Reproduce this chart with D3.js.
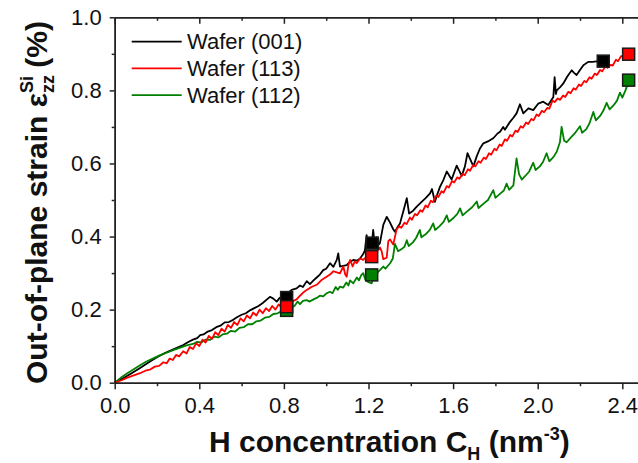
<!DOCTYPE html>
<html>
<head>
<meta charset="utf-8">
<script src="https://cdn.jsdelivr.net/npm/d3@7"></script>
<style>
  body { margin: 0; background: #fff; }
  svg { display: block; font-family: "Liberation Sans", Arial, sans-serif; }
</style>
</head>
<body>
<div id="chart"></div>
<script>
// strain vs H concentration, one [x, y] list per wafer
const seriesNames = ['Wafer (001)', 'Wafer (113)', 'Wafer (112)'];

const wafer001 = [
  [0,0],[0.04,0.012],[0.08,0.026],[0.12,0.040],[0.167,0.058],[0.20,0.070],[0.24,0.082],[0.28,0.092],
  [0.324,0.103],[0.35,0.112],[0.37,0.118],[0.39,0.122],[0.404,0.130],[0.42,0.132],[0.44,0.140],
  [0.46,0.144],[0.48,0.152],[0.50,0.156],[0.52,0.165],[0.54,0.166],[0.56,0.172],[0.58,0.180],
  [0.60,0.186],[0.62,0.190],[0.64,0.198],[0.66,0.204],[0.68,0.210],[0.70,0.218],[0.72,0.228],
  [0.734,0.235],[0.75,0.230],[0.766,0.222],[0.78,0.232],[0.80,0.240],[0.82,0.246],[0.837,0.254],
  [0.86,0.258],[0.876,0.266],[0.89,0.262],[0.908,0.278],[0.923,0.270],[0.94,0.280],[0.955,0.288],
  [0.97,0.296],[0.986,0.308],[1.00,0.312],[1.018,0.327],[1.034,0.317],[1.05,0.336],[1.057,0.354],
  [1.065,0.318],[1.08,0.320],[1.097,0.322],[1.11,0.330],[1.128,0.336],[1.145,0.334],[1.160,0.340],
  [1.175,0.352],[1.183,0.362],[1.191,0.404],[1.199,0.372],[1.207,0.392],[1.214,0.370],[1.222,0.418],
  [1.230,0.376],[1.238,0.398],[1.245,0.376],[1.254,0.382],[1.27,0.432],[1.286,0.454],[1.30,0.440],
  [1.317,0.420],[1.325,0.413],[1.34,0.428],[1.349,0.436],[1.365,0.470],[1.381,0.505],[1.392,0.463],
  [1.41,0.470],[1.428,0.482],[1.45,0.494],[1.47,0.505],[1.491,0.518],[1.50,0.530],[1.514,0.495],
  [1.525,0.515],[1.538,0.536],[1.555,0.556],[1.57,0.578],[1.593,0.556],[1.617,0.594],[1.641,0.566],
  [1.656,0.592],[1.668,0.628],[1.696,0.592],[1.712,0.620],[1.727,0.641],[1.743,0.655],[1.77,0.662],
  [1.79,0.669],[1.81,0.682],[1.822,0.687],[1.837,0.700],[1.845,0.692],[1.869,0.714],[1.885,0.725],
  [1.90,0.737],[1.916,0.762],[1.932,0.737],[1.956,0.751],[1.979,0.746],[2.003,0.764],[2.026,0.769],
  [2.05,0.760],[2.074,0.782],[2.080,0.836],[2.086,0.790],[2.09,0.800],[2.105,0.808],[2.121,0.819],
  [2.14,0.838],[2.161,0.855],[2.172,0.848],[2.184,0.842],[2.20,0.856],[2.216,0.869],[2.239,0.878],
  [2.26,0.878],[2.287,0.880],[2.31,0.880]
];

const wafer113 = [
  [0,0],[0.03,0.006],[0.06,0.014],[0.09,0.020],[0.12,0.026],[0.15,0.034],[0.167,0.036],[0.19,0.044],
  [0.21,0.046],[0.23,0.056],[0.246,0.053],[0.26,0.066],[0.275,0.062],[0.29,0.076],[0.305,0.072],
  [0.324,0.086],[0.34,0.080],[0.355,0.098],[0.37,0.092],[0.385,0.108],[0.40,0.100],[0.415,0.118],
  [0.43,0.110],[0.445,0.128],[0.46,0.120],[0.475,0.138],[0.49,0.130],[0.505,0.148],[0.52,0.140],
  [0.535,0.158],[0.55,0.150],[0.565,0.166],[0.58,0.158],[0.595,0.176],[0.61,0.168],[0.625,0.184],
  [0.64,0.176],[0.655,0.192],[0.67,0.184],[0.685,0.200],[0.70,0.190],[0.715,0.204],[0.73,0.196],
  [0.745,0.210],[0.76,0.200],[0.775,0.214],[0.79,0.206],[0.81,0.214],[0.83,0.218],[0.845,0.224],
  [0.86,0.228],[0.876,0.238],[0.89,0.246],[0.908,0.254],[0.93,0.262],[0.955,0.268],[0.98,0.282],
  [1.002,0.290],[1.018,0.296],[1.034,0.305],[1.05,0.302],[1.065,0.299],[1.081,0.318],[1.090,0.296],
  [1.097,0.290],[1.105,0.322],[1.113,0.336],[1.125,0.318],[1.135,0.332],[1.144,0.327],[1.160,0.340],
  [1.175,0.336],[1.191,0.345],[1.21,0.350],[1.23,0.352],[1.254,0.370],[1.262,0.360],[1.270,0.338],
  [1.286,0.342],[1.294,0.388],[1.302,0.392],[1.317,0.378],[1.333,0.420],[1.345,0.428],[1.355,0.424],
  [1.37,0.438],[1.38,0.434],[1.396,0.452],[1.405,0.446],[1.42,0.462],[1.43,0.458],[1.445,0.472],
  [1.455,0.468],[1.47,0.485],[1.48,0.480],[1.495,0.498],[1.505,0.494],[1.52,0.512],[1.53,0.508],
  [1.545,0.524],[1.555,0.520],[1.57,0.538],[1.58,0.534],[1.595,0.552],[1.605,0.548],[1.62,0.562],
  [1.63,0.558],[1.645,0.572],[1.655,0.568],[1.67,0.584],[1.68,0.580],[1.695,0.596],[1.705,0.592],
  [1.72,0.606],[1.73,0.602],[1.745,0.616],[1.755,0.612],[1.77,0.628],[1.78,0.624],[1.795,0.640],
  [1.805,0.636],[1.82,0.652],[1.83,0.648],[1.845,0.666],[1.855,0.662],[1.87,0.678],[1.88,0.674],
  [1.895,0.690],[1.905,0.686],[1.92,0.702],[1.93,0.698],[1.945,0.712],[1.955,0.708],[1.97,0.722],
  [1.98,0.718],[1.995,0.734],[2.005,0.730],[2.02,0.744],[2.03,0.740],[2.045,0.752],[2.055,0.750],
  [2.07,0.772],[2.08,0.768],[2.095,0.778],[2.105,0.774],[2.12,0.786],[2.13,0.782],[2.145,0.796],
  [2.155,0.792],[2.17,0.806],[2.18,0.802],[2.195,0.816],[2.205,0.812],[2.22,0.826],[2.23,0.822],
  [2.245,0.836],[2.255,0.832],[2.27,0.846],[2.28,0.842],[2.295,0.856],[2.305,0.852],[2.32,0.866],
  [2.33,0.862],[2.345,0.870],[2.355,0.868],[2.37,0.884],[2.38,0.880],[2.395,0.894],[2.405,0.892],
  [2.43,0.905]
];

const wafer112 = [
  [0,0],[0.03,0.014],[0.06,0.026],[0.088,0.036],[0.12,0.048],[0.15,0.058],[0.18,0.066],[0.21,0.074],
  [0.246,0.082],[0.28,0.090],[0.31,0.096],[0.34,0.102],[0.37,0.106],[0.39,0.112],[0.41,0.110],
  [0.43,0.118],[0.45,0.117],[0.47,0.126],[0.49,0.124],[0.51,0.132],[0.53,0.134],[0.55,0.142],
  [0.57,0.140],[0.59,0.150],[0.61,0.152],[0.63,0.160],[0.65,0.160],[0.67,0.168],[0.69,0.170],
  [0.71,0.178],[0.73,0.180],[0.75,0.188],[0.77,0.190],[0.79,0.196],[0.81,0.198],[0.83,0.204],
  [0.85,0.210],[0.865,0.222],[0.876,0.215],[0.89,0.224],[0.908,0.226],[0.92,0.222],[0.94,0.228],
  [0.955,0.232],[0.97,0.238],[0.985,0.236],[1.00,0.244],[1.018,0.249],[1.03,0.245],[1.045,0.262],
  [1.055,0.254],[1.065,0.263],[1.08,0.260],[1.095,0.274],[1.105,0.266],[1.113,0.280],[1.128,0.272],
  [1.145,0.288],[1.155,0.280],[1.165,0.294],[1.175,0.300],[1.185,0.282],[1.20,0.275],[1.215,0.272],
  [1.225,0.290],[1.24,0.300],[1.254,0.308],[1.27,0.318],[1.28,0.312],[1.302,0.327],[1.315,0.340],
  [1.325,0.380],[1.34,0.360],[1.355,0.365],[1.37,0.372],[1.381,0.390],[1.39,0.374],[1.41,0.384],
  [1.425,0.396],[1.443,0.418],[1.45,0.398],[1.47,0.406],[1.49,0.418],[1.506,0.436],[1.515,0.418],
  [1.535,0.428],[1.555,0.440],[1.57,0.458],[1.58,0.440],[1.60,0.450],[1.62,0.462],[1.633,0.477],
  [1.645,0.458],[1.665,0.468],[1.69,0.480],[1.712,0.496],[1.72,0.478],[1.74,0.488],[1.765,0.500],
  [1.79,0.527],[1.80,0.506],[1.82,0.516],[1.84,0.526],[1.853,0.545],[1.865,0.528],[1.885,0.540],
  [1.90,0.614],[1.912,0.570],[1.925,0.556],[1.94,0.565],[1.96,0.578],[1.979,0.602],[1.99,0.582],
  [2.01,0.592],[2.025,0.604],[2.042,0.628],[2.055,0.606],[2.075,0.618],[2.09,0.632],[2.105,0.658],
  [2.113,0.700],[2.125,0.662],[2.137,0.658],[2.155,0.670],[2.175,0.682],[2.20,0.702],[2.21,0.684],
  [2.23,0.694],[2.245,0.710],[2.263,0.741],[2.275,0.718],[2.295,0.730],[2.31,0.744],[2.326,0.766],
  [2.34,0.748],[2.36,0.760],[2.375,0.772],[2.389,0.794],[2.40,0.780],[2.415,0.800],[2.43,0.826]
];

// square markers at the measured points
const markers001 = [[0.813,0.233],[1.218,0.382],[2.31,0.880]];
const markers113 = [[0.813,0.208],[1.215,0.345],[2.43,0.899]];
const markers112 = [[0.813,0.198],[1.215,0.295],[2.43,0.828]];

const xTicks = [0, 0.4, 0.8, 1.2, 1.6, 2.0, 2.4];
const xMinorTicks = [0.2, 0.6, 1.0, 1.4, 1.8, 2.2];
const yTicks = [0, 0.2, 0.4, 0.6, 0.8, 1.0];
const yMinorTicks = [0.1, 0.3, 0.5, 0.7, 0.9];

const width = 638;
const height = 463;
const plotLeft = 114.7, plotTop = 17.3, plotBottom = 382.7;
const font = '"Liberation Sans", Arial, sans-serif';

const x = d3.scaleLinear().domain([0, 2.5]).range([plotLeft, plotLeft + 2.5 * 211.5]);
const y = d3.scaleLinear().domain([0, 1]).range([plotBottom, plotTop]);

const svg = d3.select('#chart').append('svg')
  .attr('width', width)
  .attr('height', height);

svg.append('rect').attr('width', width).attr('height', height).attr('fill', '#fff');

const series = [
  { name: seriesNames[0], data: wafer001, marks: markers001, color: '#000000' },
  { name: seriesNames[1], data: wafer113, marks: markers113, color: '#ff0000' },
  { name: seriesNames[2], data: wafer112, marks: markers112, color: '#008000' }
];

const line = d3.line().x(d => x(d[0])).y(d => y(d[1]));

// draw order: black, green, red
[series[0], series[2], series[1]].forEach(s => {
  svg.append('path')
    .datum(s.data)
    .attr('fill', 'none')
    .attr('stroke', s.color)
    .attr('stroke-width', 1.8)
    .attr('stroke-linejoin', 'round')
    .attr('d', line);
});

[series[0], series[2], series[1]].forEach(s => {
  svg.selectAll(null)
    .data(s.marks)
    .enter().append('rect')
      .attr('x', d => x(d[0]) - 6)
      .attr('y', d => y(d[1]) - 6)
      .attr('width', 12)
      .attr('height', 12)
      .attr('fill', s.color)
      .attr('stroke', '#1a1a1a')
      .attr('stroke-width', 1.5);
});

// axes
const styleAxis = (g) => {
  g.select('.domain').attr('stroke', '#222').attr('stroke-width', 1.5);
  g.selectAll('.tick line').attr('stroke', '#222').attr('stroke-width', 1.5);
  g.selectAll('.tick text').attr('fill', '#111').style('font-family', font).style('font-size', '22px');
};

svg.append('g')
  .attr('transform', `translate(0,${plotBottom})`)
  .call(d3.axisBottom(x).tickValues(xTicks).tickSize(6.5).tickPadding(8).tickFormat(d3.format('.1f')).tickSizeOuter(0))
  .call(styleAxis);
svg.append('g')
  .attr('transform', `translate(0,${plotBottom})`)
  .call(d3.axisBottom(x).tickValues(xMinorTicks).tickSize(3.5).tickFormat('').tickSizeOuter(0))
  .call(styleAxis);

svg.append('g')
  .attr('transform', `translate(0,${plotTop})`)
  .call(d3.axisTop(x).tickValues(xTicks).tickSize(-6.5).tickFormat('').tickSizeOuter(0))
  .call(styleAxis);
svg.append('g')
  .attr('transform', `translate(0,${plotTop})`)
  .call(d3.axisTop(x).tickValues(xMinorTicks).tickSize(-3.5).tickFormat('').tickSizeOuter(0))
  .call(styleAxis);

svg.append('g')
  .attr('transform', `translate(${plotLeft},0)`)
  .call(d3.axisLeft(y).tickValues(yTicks).tickSize(5).tickPadding(8).tickFormat(d3.format('.1f')).tickSizeOuter(0))
  .call(styleAxis);
svg.append('g')
  .attr('transform', `translate(${plotLeft},0)`)
  .call(d3.axisLeft(y).tickValues(yMinorTicks).tickSize(3).tickFormat('').tickSizeOuter(0))
  .call(styleAxis);

// legend
const legend = svg.append('g');
series.forEach((s, i) => {
  const ly = 41.7 + i * 26.7;
  legend.append('line')
    .attr('x1', 131.7).attr('x2', 181.7)
    .attr('y1', ly).attr('y2', ly)
    .attr('stroke', s.color).attr('stroke-width', 1.8);
  legend.append('text')
    .attr('x', 187).attr('y', ly + 7.5)
    .attr('fill', '#111')
    .style('font-size', '22px')
    .text(s.name);
});

// axis titles
const xTitle = svg.append('text')
  .attr('x', 209).attr('y', 452)
  .attr('fill', '#111')
  .style('font-size', '30px').style('font-weight', 'bold');
xTitle.append('tspan').text('H concentration C');
xTitle.append('tspan').attr('dy', 8).style('font-size', '18px').text('H');
xTitle.append('tspan').attr('dy', -8).text(' (nm');
xTitle.append('tspan').attr('dy', -12).style('font-size', '18px').text('-3');
xTitle.append('tspan').attr('dy', 12).text(')');

const yTitle = svg.append('text')
  .attr('transform', 'translate(47,384) rotate(-90)')
  .attr('fill', '#111')
  .style('font-size', '30px').style('font-weight', 'bold');
yTitle.append('tspan').text('Out-of-plane strain ε');
yTitle.append('tspan').attr('dy', 7).style('font-size', '18px').text('zz');
yTitle.append('tspan').attr('dx', -18).attr('dy', -21).style('font-size', '18px').text('Si');
yTitle.append('tspan').attr('dy', 14).text(' (%)');
</script>
</body>
</html>
